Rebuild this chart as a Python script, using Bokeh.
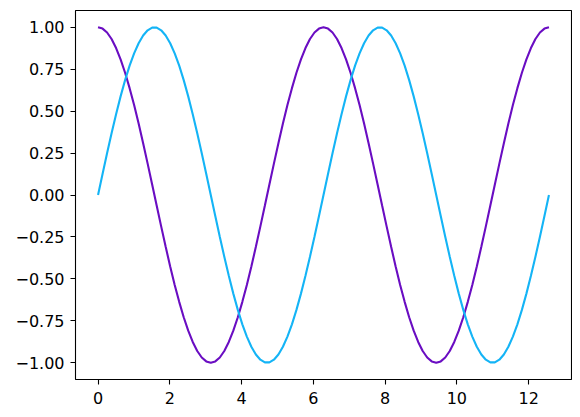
import numpy as np
from bokeh.plotting import figure
from bokeh.models import FixedTicker, Range1d
from bokeh.embed import file_html
from bokeh.resources import INLINE

# sample positions: 0 .. 4*pi (101 samples)
x_start = 0.0
x_end = 12.566
n_samples = 101

sin_values = [
    0.000, 0.125, 0.249, 0.368, 0.482, 0.588, 0.685, 0.771, 0.844, 0.905,
    0.951, 0.982, 0.998, 0.998, 0.982, 0.951, 0.905, 0.844, 0.771, 0.685,
    0.588, 0.482, 0.368, 0.249, 0.125, 0.000, -0.125, -0.249, -0.368, -0.482,
    -0.588, -0.685, -0.771, -0.844, -0.905, -0.951, -0.982, -0.998, -0.998, -0.982,
    -0.951, -0.905, -0.844, -0.771, -0.685, -0.588, -0.482, -0.368, -0.249, -0.125,
    0.000, 0.125, 0.249, 0.368, 0.482, 0.588, 0.685, 0.771, 0.844, 0.905,
    0.951, 0.982, 0.998, 0.998, 0.982, 0.951, 0.905, 0.844, 0.771, 0.685,
    0.588, 0.482, 0.368, 0.249, 0.125, 0.000, -0.125, -0.249, -0.368, -0.482,
    -0.588, -0.685, -0.771, -0.844, -0.905, -0.951, -0.982, -0.998, -0.998, -0.982,
    -0.951, -0.905, -0.844, -0.771, -0.685, -0.588, -0.482, -0.368, -0.249, -0.125,
    0.000,
]

cos_values = [
    1.000, 0.992, 0.969, 0.930, 0.876, 0.809, 0.729, 0.637, 0.536, 0.426,
    0.309, 0.187, 0.063, -0.063, -0.187, -0.309, -0.426, -0.536, -0.637, -0.729,
    -0.809, -0.876, -0.930, -0.969, -0.992, -1.000, -0.992, -0.969, -0.930, -0.876,
    -0.809, -0.729, -0.637, -0.536, -0.426, -0.309, -0.187, -0.063, 0.063, 0.187,
    0.309, 0.426, 0.536, 0.637, 0.729, 0.809, 0.876, 0.930, 0.969, 0.992,
    1.000, 0.992, 0.969, 0.930, 0.876, 0.809, 0.729, 0.637, 0.536, 0.426,
    0.309, 0.187, 0.063, -0.063, -0.187, -0.309, -0.426, -0.536, -0.637, -0.729,
    -0.809, -0.876, -0.930, -0.969, -0.992, -1.000, -0.992, -0.969, -0.930, -0.876,
    -0.809, -0.729, -0.637, -0.536, -0.426, -0.309, -0.187, -0.063, 0.063, 0.187,
    0.309, 0.426, 0.536, 0.637, 0.729, 0.809, 0.876, 0.930, 0.969, 0.992,
    1.000,
]

x_ticks = [0, 2, 4, 6, 8, 10, 12]
x_tick_labels = ["0", "2", "4", "6", "8", "10", "12"]
y_ticks = [-1.0, -0.75, -0.5, -0.25, 0.0, 0.25, 0.5, 0.75, 1.0]
y_tick_labels = ["\u22121.00", "\u22120.75", "\u22120.50", "\u22120.25", "0.00",
                 "0.25", "0.50", "0.75", "1.00"]

x = np.linspace(x_start, x_end, n_samples)

span = x_end - x_start
p = figure(width=572, height=409, output_backend="svg", toolbar_location=None,
           x_range=Range1d(x_start - 0.05 * span, x_end + 0.05 * span),
           y_range=Range1d(-1.1, 1.1),
           min_border_left=75, min_border_right=1, min_border_top=10, min_border_bottom=30)

p.line(x, cos_values, line_color="#6a0dc2", line_width=2.1)
p.line(x, sin_values, line_color="#14b4f6", line_width=2.1)

p.xgrid.visible = False
p.ygrid.visible = False
p.background_fill_color = "white"
p.border_fill_color = "white"
p.outline_line_color = "black"
p.outline_line_width = 1.1
p.outline_line_alpha = 1.0

p.xaxis.ticker = FixedTicker(ticks=x_ticks)
p.xaxis.major_label_overrides = {t: l for t, l in zip(x_ticks, x_tick_labels)}
p.yaxis.ticker = FixedTicker(ticks=y_ticks)
p.yaxis.major_label_overrides = {t: l for t, l in zip(y_ticks, y_tick_labels)}

for ax in (p.xaxis, p.yaxis):
    ax.axis_line_color = None
    ax.minor_tick_line_color = None
    ax.major_tick_line_color = "black"
    ax.major_tick_line_width = 1.1
    ax.major_tick_out = 5
    ax.major_tick_in = 0
    ax.major_label_text_font = "DejaVu Sans"
    ax.major_label_text_font_size = "16px"
    ax.major_label_text_color = "black"

p.xaxis.major_label_standoff = 7
p.yaxis.major_label_standoff = 6

open("out.html", "w").write(file_html(p, INLINE))
